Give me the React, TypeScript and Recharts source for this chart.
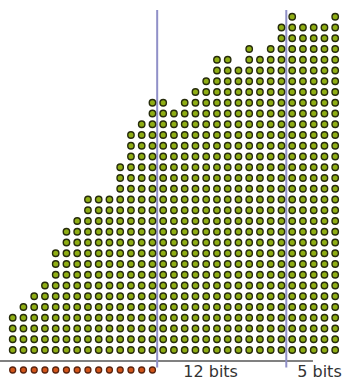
import React from 'react';
import { ScatterChart, Scatter, XAxis, YAxis, ReferenceLine, ReferenceDot } from 'recharts';

// Number of green dots stacked in each column (column index = position)
const columnHeights: number[] = [
  4, 5, 6, 7, 10, 12, 13, 15, 15, 15, 18, 21, 22, 24, 24, 23,
  24, 25, 26, 28, 28, 27, 29, 28, 29, 31, 32, 31, 31, 31, 32,
];
// Number of orange dots on the bottom row
const orangeCount = 14;
const orangeRow = -1.86;

// Divider positions (in column units) and labels
const dividers: number[] = [13.44, 25.45];
const labels: { text: string; col: number }[] = [
  { text: '12 bits', col: 15.87 },
  { text: '5 bits', col: 26.47 },
];

const greenData = columnHeights.flatMap((h, col) =>
  Array.from({ length: h }, (_, row) => ({ x: col, y: row }))
);
const orangeData = Array.from({ length: orangeCount }, (_, col) => ({ x: col, y: orangeRow }));

const W = 354;
const H = 384;
const xDomain: [number, number] = [-1.1814, 31.749];
const yDomain: [number, number] = [-3.163, 32.558];

const GreenDot = (props: any) => (
  <circle cx={props.cx} cy={props.cy} r={3.2} fill="#8fae14" stroke="#262b0c" strokeWidth={1.4} />
);
const OrangeDot = (props: any) => (
  <circle cx={props.cx} cy={props.cy} r={3.0} fill="#d4561a" stroke="#5a2410" strokeWidth={1.3} />
);

const TextLabel = (text: string) => (p: any) => {
  const vb = p.viewBox || {};
  const x = vb.x + (vb.width || 0) / 2;
  const y = vb.y + (vb.height || 0) / 2;
  return (
    <text x={x} y={y} textAnchor="start" fill="#333" fontSize={16} fontFamily="DejaVu Sans">
      {text}
    </text>
  );
};

export default function App() {
  return (
    <div style={{ position: 'absolute', left: 0, top: 0, background: '#fff' }}>
      <ScatterChart width={W} height={H} margin={{ top: 0, right: 0, bottom: 0, left: 0 }}>
        <XAxis type="number" dataKey="x" domain={xDomain} hide allowDataOverflow />
        <YAxis type="number" dataKey="y" domain={yDomain} hide allowDataOverflow />
        <ReferenceLine
          segment={[{ x: -1.18, y: -1.02 }, { x: 27.93, y: -1.02 }]}
          stroke="#808080"
          strokeWidth={2}
          ifOverflow="visible"
        />
        <Scatter data={greenData} shape={GreenDot} isAnimationActive={false} />
        <Scatter data={orangeData} shape={OrangeDot} isAnimationActive={false} />
        {dividers.map((c, i) => (
          <ReferenceLine
            key={i}
            segment={[{ x: c, y: 31.63 }, { x: c, y: -1.63 }]}
            stroke="#9090c8"
            strokeWidth={2}
            ifOverflow="visible"
          />
        ))}
        {labels.map((l, i) => (
          <ReferenceDot key={i} x={l.col} y={-2.51} r={0} fill="none" stroke="none" label={TextLabel(l.text)} ifOverflow="visible" />
        ))}
      </ScatterChart>
    </div>
  );
}
